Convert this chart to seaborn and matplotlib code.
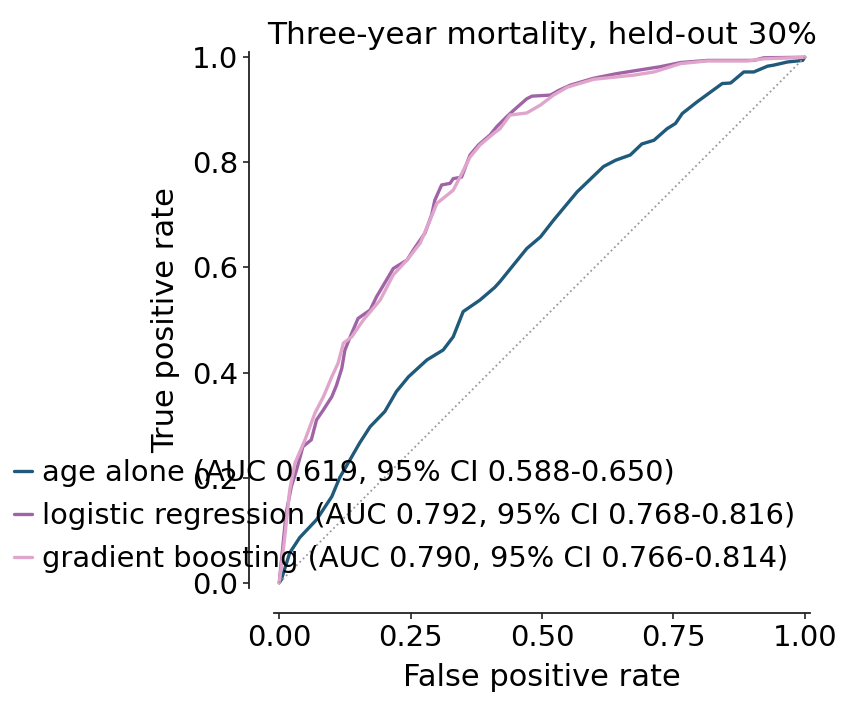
import matplotlib
matplotlib.use("Agg")
import matplotlib.pyplot as plt
import pandas as pd
import seaborn as sns

# ROC points (false positive rate, true positive rate)
age_fpr = [0.0, 0.004, 0.02, 0.039, 0.071, 0.10, 0.115, 0.153, 0.173, 0.201, 0.223, 0.246,
           0.281, 0.312, 0.331, 0.350, 0.382, 0.41, 0.420, 0.471, 0.497, 0.522, 0.567, 0.617,
           0.640, 0.668, 0.690, 0.713, 0.738, 0.754, 0.767, 0.795, 0.843, 0.859, 0.884, 0.903,
           0.929, 0.941, 0.967, 0.996, 1.0]
age_tpr = [0.0, 0.006, 0.057, 0.086, 0.12, 0.164, 0.20, 0.266, 0.297, 0.326, 0.364, 0.392,
           0.424, 0.443, 0.468, 0.516, 0.538, 0.562, 0.573, 0.636, 0.658, 0.690, 0.744, 0.792,
           0.804, 0.814, 0.835, 0.842, 0.864, 0.874, 0.893, 0.915, 0.950, 0.951, 0.972, 0.972,
           0.983, 0.985, 0.991, 0.994, 1.0]

lr_fpr = [0.0, 0.013, 0.023, 0.033, 0.045, 0.061, 0.071, 0.084, 0.10, 0.109, 0.119, 0.125,
          0.138, 0.150, 0.173, 0.185, 0.204, 0.217, 0.243, 0.255, 0.277, 0.290, 0.296, 0.309,
          0.325, 0.331, 0.347, 0.363, 0.379, 0.401, 0.414, 0.433, 0.446, 0.471, 0.481, 0.516,
          0.532, 0.554, 0.598, 0.643, 0.687, 0.725, 0.764, 0.815, 0.903, 0.922, 1.0]
lr_tpr = [0.0, 0.132, 0.183, 0.215, 0.259, 0.272, 0.310, 0.329, 0.354, 0.376, 0.408, 0.443,
          0.475, 0.503, 0.519, 0.544, 0.576, 0.598, 0.614, 0.633, 0.665, 0.700, 0.728, 0.757,
          0.760, 0.769, 0.772, 0.814, 0.833, 0.852, 0.868, 0.887, 0.899, 0.921, 0.926, 0.928,
          0.937, 0.947, 0.960, 0.969, 0.976, 0.982, 0.990, 0.994, 0.994, 0.999, 1.0]

gb_fpr = [0.0, 0.010, 0.020, 0.030, 0.049, 0.068, 0.084, 0.10, 0.112, 0.122, 0.138, 0.153,
          0.160, 0.192, 0.217, 0.243, 0.268, 0.287, 0.300, 0.331, 0.344, 0.363, 0.382, 0.408,
          0.420, 0.439, 0.471, 0.497, 0.522, 0.548, 0.598, 0.675, 0.713, 0.764, 0.815, 0.891,
          0.922, 1.0]
gb_tpr = [0.0, 0.082, 0.177, 0.228, 0.272, 0.323, 0.354, 0.392, 0.418, 0.456, 0.468, 0.490,
          0.500, 0.538, 0.586, 0.614, 0.646, 0.690, 0.722, 0.747, 0.772, 0.810, 0.833, 0.855,
          0.864, 0.890, 0.894, 0.909, 0.928, 0.943, 0.958, 0.966, 0.972, 0.988, 0.993, 0.993,
          0.997, 1.0]

labels = [
    "age alone (AUC 0.619, 95% CI 0.588-0.650)",
    "logistic regression (AUC 0.792, 95% CI 0.768-0.816)",
    "gradient boosting (AUC 0.790, 95% CI 0.766-0.814)",
]
colors = ["#1f5a7a", "#a064a6", "#e0a5cb"]

sns.set_theme(style="ticks")
plt.rcParams["font.family"] = ["DejaVu Sans"]
plt.rcParams["text.color"] = "black"
plt.rcParams["axes.labelcolor"] = "black"

fig = plt.figure(figsize=(8.55, 7.08), dpi=100)
ax = fig.add_axes([274 / 855, 120 / 708, 536 / 855, 536 / 708])

curves = [(age_fpr, age_tpr), (lr_fpr, lr_tpr), (gb_fpr, gb_tpr)]
for (fpr, tpr), lab, col in zip(curves, labels, colors):
    df = pd.DataFrame({"fpr": fpr, "tpr": tpr})
    sns.lineplot(data=df, x="fpr", y="tpr", ax=ax, color=col, lw=2.4, label=lab,
                 sort=False, estimator=None)

ax.plot([0, 1], [0, 1], ls=":", color="#999999", lw=1.3)
ax.set_xlim(-0.01, 1.01)
ax.set_ylim(-0.01, 1.01)
ax.set_xticks([0, 0.25, 0.5, 0.75, 1.0])
ax.set_yticks([0, 0.2, 0.4, 0.6, 0.8, 1.0])
ax.set_xticklabels(["0.00", "0.25", "0.50", "0.75", "1.00"])
ax.set_yticklabels(["0.0", "0.2", "0.4", "0.6", "0.8", "1.0"])
ax.tick_params(labelsize=21, length=4.5, width=1.2, colors="#222222", labelcolor="black")
ax.set_xlabel("False positive rate", fontsize=22, labelpad=7.5)
ax.set_ylabel("True positive rate", fontsize=22, labelpad=8)
ax.set_title("Three-year mortality, held-out 30%", fontsize=22.4)
sns.despine(ax=ax, offset=18)
for sp in ["left", "bottom"]:
    ax.spines[sp].set_linewidth(1.3)
    ax.spines[sp].set_color("#222222")

ax.legend(loc="lower left", bbox_to_anchor=(-0.485, 0.028), frameon=False, fontsize=20.8,
          handlelength=0.62, handletextpad=0.35, labelspacing=0.52, borderaxespad=0,
          borderpad=0)

fig.savefig("out.png", dpi=100)
